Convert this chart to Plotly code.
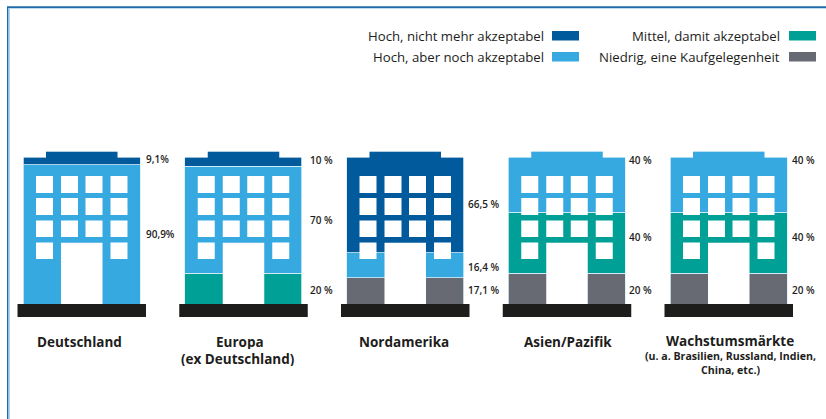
import plotly.graph_objects as go

# ---------- data ----------
regions = ["Deutschland", "Europa", "Nordamerika", "Asien/Pazifik", "Wachstumsmärkte"]
niedrig = [None, None, 17.1, 20, 20]
mittel = [None, 20, None, 40, 40]
hoch_akzeptabel = [90.9, 70, 16.4, 40, 40]
hoch_nicht = [9.1, 10, 66.5, None, None]
value_text = {
    "Deutschland": ["9,1%", "90,9%"],
    "Europa": ["10 %", "70 %", "20 %"],
    "Nordamerika": ["66,5 %", "16,4 %", "17,1 %"],
    "Asien/Pazifik": ["40 %", "40 %", "20 %"],
    "Wachstumsmärkte": ["40 %", "40 %", "20 %"],
}
series_names = ["Niedrig, eine Kaufgelegenheit", "Mittel, damit akzeptabel",
                "Hoch, aber noch akzeptabel", "Hoch, nicht mehr akzeptabel"]

# ---------- styles / layout ----------
GREY, GREEN, LIGHT, DARK = "#676a73", "#00a096", "#36a9e1", "#005a9c"
BLACK = "#1d1d1b"
W, H = 826, 419
FONT = "Open Sans"
STEP = 161.75
C0 = 81.5
Y0, Y100 = 304, 151
SCALE = (Y0 - Y100) / 100


def py(p):
    return (Y0 - p) / SCALE


def dx(p):
    return p / STEP


fig = go.Figure()
for name, vals, col in zip(series_names, [niedrig, mittel, hoch_akzeptabel, hoch_nicht],
                           [GREY, GREEN, LIGHT, DARK]):
    fig.add_bar(x=regions, y=vals, name=name, marker=dict(color=col, line=dict(color="#d9eef9", width=0.8)),
                width=117 / STEP, showlegend=False, hoverinfo="x+y+name")

shapes = []


def rect(x0, x1, y0, y1, color, i=0):
    shapes.append(dict(type="rect", xref="x", yref="y", layer="above", line_width=0, fillcolor=color,
                       x0=i + dx(x0), x1=i + dx(x1), y0=py(y0), y1=py(y1)))


win_x = [(-45.5, -28.5), (-20.5, -3.5), (4, 21), (29, 46)]
win_y = [(176, 193), (198, 215), (220.5, 237), (242.5, 259)]
for i in range(len(regions)):
    # roof corners cut out of the silhouette
    rect(-60, -35.5, 149, 157.6, "white", i)
    rect(36, 60, 149, 157.6, "white", i)
    for r, (y0, y1) in enumerate(win_y):
        for c, (x0, x1) in enumerate(win_x):
            if r == 3 and c in (1, 2):
                continue
            rect(x0, x1, y0, y1, "white", i)
    rect(-20.5, 21, 242.7, 304, "white", i)  # door
    rect(-64, 64.5, 304, 317, BLACK, i)  # base

# frame
for s in [dict(x0=7, x1=8.2, y0=7, y1=H, fillcolor="#1f6aa8"), dict(x0=8.2, x1=9.6, y0=8, y1=H, fillcolor="#7db8e4"),
          dict(x0=7, x1=W, y0=6.2, y1=8, fillcolor="#1f6aa8"), dict(x0=8.2, x1=W, y0=8, y1=8.8, fillcolor="#a9cfec")]:
    shapes.append(dict(type="rect", xref="paper", yref="paper", line_width=0, layer="above",
                       x0=s["x0"] / W, x1=s["x1"] / W, y0=1 - s["y0"] / H, y1=1 - s["y1"] / H, fillcolor=s["fillcolor"]))

# legend
legend_rows = [(DARK, series_names[3], 546, 552, 36), (LIGHT, series_names[2], 546, 552, 57),
               (GREEN, series_names[1], 782, 789, 36), (GREY, series_names[0], 782, 789, 57)]
ann = []
for col, txt, tx, sx, yc in legend_rows:
    shapes.append(dict(type="rect", xref="paper", yref="paper", line_width=0, layer="above", fillcolor=col,
                       x0=sx / W, x1=(sx + 27) / W, y0=1 - (yc - 5) / H, y1=1 - (yc + 4.5) / H))
    ann.append(dict(xref="paper", yref="paper", x=tx / W, y=1 - yc / H, text=txt, showarrow=False,
                    xanchor="right", yanchor="middle", font=dict(family=FONT, size=13.2, color=BLACK)))

# value labels
label_left = [145, 309, 467, 628, 791]
label_y = [[159, 234], [160, 220, 290], [204, 267, 290], [160, 237, 290], [160, 237, 290]]
for reg, lx, ys in zip(regions, label_left, label_y):
    for t, yy in zip(value_text[reg], ys):
        ann.append(dict(xref="paper", yref="paper", x=lx / W, y=1 - yy / H, text=t, showarrow=False, borderpad=0,
                        xanchor="left", yanchor="middle",
                        font=dict(family=FONT, size=10, color=BLACK, weight=600)))

# category labels
cat_lines = [("Deutschland", 79, 342, 13.5, 14), ("Europa", 240, 342, 13.5, 14), ("(ex Deutschland)", 238, 359, 13.5, 14),
             ("Nordamerika", 404, 342, 13.5, 14), ("Asien/Pazifik", 568, 342, 13.5, 14), ("Wachstumsmärkte", 730, 341, 13.5, 14),
             ("(u. a. Brasilien, Russland, Indien,", 730, 356, 10.6, 12), ("China, etc.)", 730, 370, 10.6, 12)]
for t, x, y, s, h in cat_lines:
    ann.append(dict(xref="paper", yref="paper", x=x / W, y=1 - y / H, text=t, showarrow=False, borderpad=0, height=h,
                    xanchor="center", yanchor="middle", font=dict(family=FONT, size=s, color=BLACK, weight=700)))

fig.update_layout(
    width=W, height=H, margin=dict(l=0, r=0, t=0, b=0), barmode="stack", plot_bgcolor="white", paper_bgcolor="white",
    xaxis=dict(type="category", visible=False, range=[-C0 / STEP, (W - C0) / STEP], categoryorder="array",
               categoryarray=regions),
    yaxis=dict(visible=False, range=[py(H), py(0)]),
    shapes=shapes, annotations=ann,
)
fig.write_html("out.html", config={"displayModeBar": False},
               post_script="document.body.style.margin='0';document.documentElement.style.overflow='hidden';")
